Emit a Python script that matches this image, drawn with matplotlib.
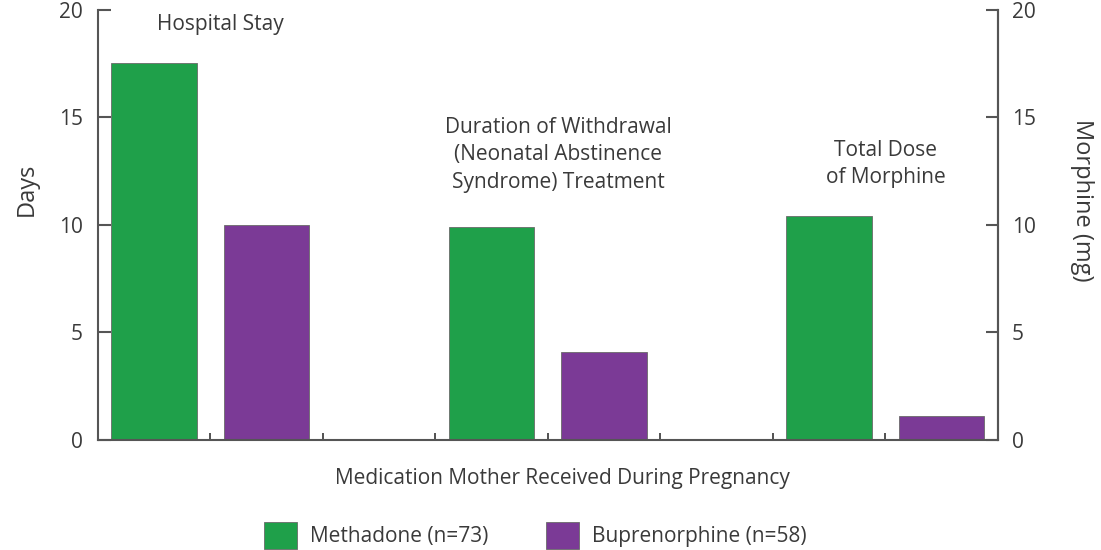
import numpy as np
import matplotlib.pyplot as plt

plt.rcParams['font.family'] = ['Open Sans', 'DejaVu Sans']

# Outcome groups and values (days / mg)
groups = ['Hospital Stay',
          'Duration of Withdrawal\n(Neonatal Abstinence\nSyndrome) Treatment',
          'Total Dose\nof Morphine']
methadone = [17.55, 9.9, 10.4]
buprenorphine = [10.0, 4.1, 1.1]
series_names = ['Methadone (n=73)', 'Buprenorphine (n=58)']
y_ticks = [0, 5, 10, 15, 20]

green = '#1fa04a'
purple = '#7b3a96'
axis_col = '#555555'
text_col = '#3a3a3a'
fs = 15

fig = plt.figure(figsize=(11.01, 5.5), dpi=100)
ax = fig.add_axes([0.089, 0.2, 0.8174, 0.782])

group_pos = np.arange(len(groups)) * 3
w = 0.76
b1 = ax.bar(group_pos + 0.5, methadone, width=w, color=green,
            edgecolor='#6a6a6a', linewidth=0.6, label=series_names[0])
b2 = ax.bar(group_pos + 1.5, buprenorphine, width=w, color=purple,
            edgecolor='#6a6a6a', linewidth=0.6, label=series_names[1])

ax.set_xlim(0, 8)
ax.set_ylim(0, 20)
ax.set_xticks(np.arange(1, 8))
ax.set_xticklabels([])
ax.tick_params(axis='x', direction='in', length=5, width=1.2, color='#333333')
ax.set_yticks(y_ticks)
ax.tick_params(axis='y', direction='in', length=9, width=1.5, color=axis_col,
               labelsize=fs, labelcolor=text_col, pad=11)
for side in ['left', 'bottom', 'right']:
    ax.spines[side].set_color(axis_col)
    ax.spines[side].set_linewidth(1.5)
ax.spines['top'].set_visible(False)

# Right axis carries the morphine scale
ax2 = ax.twinx()
ax2.set_ylim(0, 20)
ax2.set_yticks(y_ticks)
ax2.tick_params(axis='y', direction='in', length=9, width=1.5, color=axis_col,
                labelsize=fs, labelcolor=text_col, pad=10)
for side in ['top', 'left', 'bottom']:
    ax2.spines[side].set_visible(False)
ax2.spines['right'].set_color(axis_col)
ax2.spines['right'].set_linewidth(1.5)

# Group captions
ax.text(1.09, 19.3, groups[0], ha='center', va='center', fontsize=fs, color=text_col)
ax.text(4.09, 13.26, groups[1], ha='center', va='center', fontsize=fs,
        color=text_col, linespacing=1.4)
ax.text(7.0, 12.84, groups[2], ha='center', va='center', fontsize=fs,
        color=text_col, linespacing=1.4)

fig.text(0.024, 0.655, 'Days', rotation=90, ha='center', va='center',
         fontsize=17, color=text_col)
fig.text(0.983, 0.636, 'Morphine (mg)', rotation=-90, ha='center', va='center',
         fontsize=17, color=text_col)
fig.text(0.511, 0.13, 'Medication Mother Received During Pregnancy',
         ha='center', va='center', fontsize=fs, color=text_col)

fig.legend(handles=[b1, b2], labels=series_names, loc='center',
           bbox_to_anchor=(0.486, 0.027), ncol=2, frameon=False, fontsize=fs,
           handlelength=1.6, handleheight=1.6, handletextpad=0.62,
           columnspacing=2.75, labelcolor=text_col)

fig.savefig('out.png', dpi=100)
